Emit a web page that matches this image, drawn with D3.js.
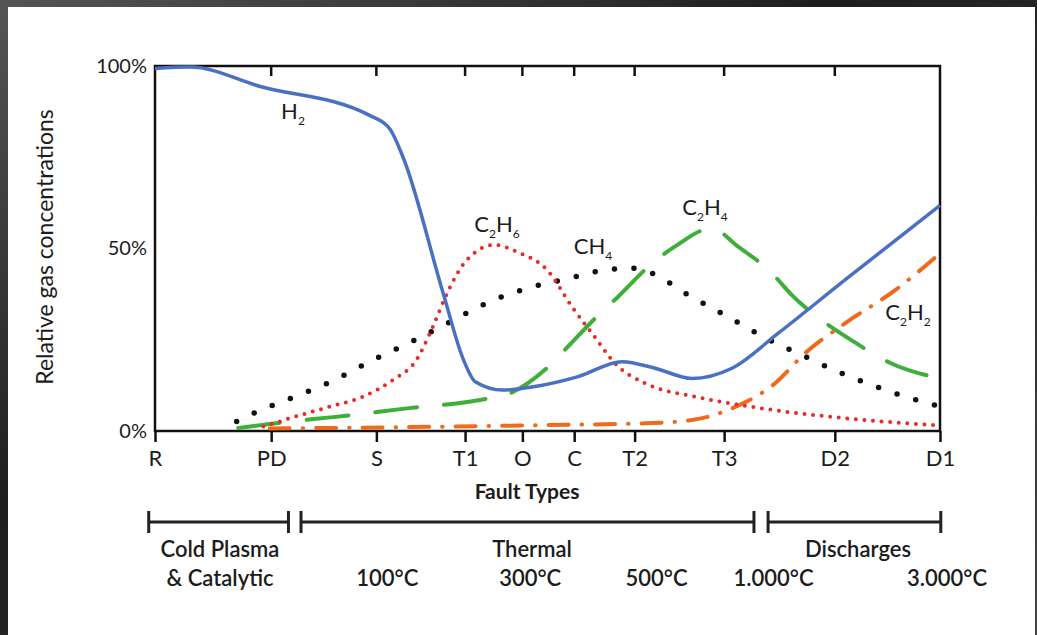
<!DOCTYPE html>
<html>
<head>
<meta charset="utf-8">
<script src="https://cdn.jsdelivr.net/npm/d3@7"></script>
<style>
  body { margin:0; background:#2b2b2b; }
  svg { display:block; }
  text { font-family: Lato, "Open Sans", sans-serif; fill:#1c1c1c; }
</style>
</head>
<body>
<script>
// fault types along the x axis (position on a 0..100 scale)
var faultLabels = ["R","PD","S","T1","O","C","T2","T3","D2","D1"]
var faultPos    = [0, 14.8, 28.2, 39.5, 46.8, 53.4, 61.1, 72.5, 86.6, 100]
var yTicks = [0, 50, 100]

// gas curves, [x, relative %]
var h2 = [[0,99.3],[4.5,99.7],[13.4,94.4],[27.4,86.4],[29.9,82.8],[31.6,75],[36.7,37.8],[39.3,19.5],[40.8,13.5],[44.3,11.2],[48.2,12.1],[53.9,14.9],[59.5,19],[63.7,17.2],[68.4,14.4],[73.5,17.2],[79.4,26.8],[87.9,41.4],[100,61.8]]
var c2h6 = [[13.8,1.2],[17.2,3.5],[22.3,6.7],[26.5,9.4],[30.3,14],[33.3,19.5],[35.4,28.6],[37.2,37.7],[39.7,46.8],[43.3,51],[46.1,49.1],[50,44],[53.1,34.1],[56,25.8],[58.6,18.5],[62.4,13.1],[68.8,9.4],[77.3,6.2],[87.9,3.5],[100,1.5]]
var ch4 = [[10.4,2.6],[13,5.3],[17.8,9.4],[22.9,14],[27.8,19.5],[32.7,24.5],[37.6,29.9],[42.2,35],[47.4,39.1],[52.7,41.8],[58,44.3],[60.7,44.6],[63.3,43.2],[67.9,37.3],[72.8,31.5],[77.5,25.8],[82.4,20.8],[87.5,15.8],[94.9,9.9],[100,6.7]]
var c2h4 = [[10.6,0.8],[17.2,2.6],[22.7,3.8],[32.1,6.2],[41.4,8.5],[45.2,10.3],[49.9,17.2],[52.2,22.2],[56.5,31.8],[59,36.8],[63.3,45.9],[66.2,50.5],[70.9,55.5],[74.3,50.5],[78.6,43.2],[81.1,37.3],[85.8,29],[88.7,24.9],[93.8,18.5],[100,14.4]]
var c2h2 = [[14.6,0.7],[30,1],[49,1.6],[62.4,2.1],[68.4,3],[73.5,6.2],[79,13.1],[82.8,21.3],[87.9,29.5],[94.3,38.6],[100,48.7]]

// temperature bands below the chart
var bandNames = ["Cold Plasma","Thermal","Discharges"]
var bandFrom  = [-0.8, 18.6, 78.1]
var bandTo    = [17, 76.3, 100.1]
var tempLabels = ["100°C","300°C","500°C","1.000°C","3.000°C"]
var tempPos    = [29.6, 47.8, 63.9, 78.8, 100.9]

var W = 1037, H = 635
var svg = d3.select("body").append("svg").attr("width",W).attr("height",H)

// dark photo-like surround
var grad = svg.append("defs").append("linearGradient").attr("id","bg").attr("x1",0).attr("y1",0).attr("x2",1).attr("y2",1)
grad.append("stop").attr("offset","0%").attr("stop-color","#555")
grad.append("stop").attr("offset","40%").attr("stop-color","#1e1e1e")
grad.append("stop").attr("offset","100%").attr("stop-color","#444")
svg.append("rect").attr("width",W).attr("height",H).attr("fill","url(#bg)")
svg.append("rect").attr("x",8).attr("y",7).attr("width",1027).attr("height",640).attr("fill","#fff")

var x = d3.scaleLinear().domain([0,100]).range([155,940])
var y = d3.scaleLinear().domain([0,100]).range([431,66])

// frame
svg.append("rect").attr("x",x(0)).attr("y",y(100)).attr("width",x(100)-x(0)).attr("height",y(0)-y(100))
  .attr("fill","none").attr("stroke","#111").attr("stroke-width",2.5)

// top ticks (inward)
svg.append("g").selectAll("line").data(faultPos.slice(1,-1)).enter().append("line")
  .attr("x1",d=>x(d)).attr("x2",d=>x(d)).attr("y1",y(100)).attr("y2",y(100)+10)
  .attr("stroke","#111").attr("stroke-width",2.5)

// bottom axis
var xAxis = d3.axisBottom(x).tickValues(faultPos).tickFormat((d,i)=>faultLabels[i]).tickSize(11).tickPadding(8)
var gx = svg.append("g").attr("transform","translate(0,"+y(0)+")").call(xAxis)
gx.select(".domain").remove()
gx.selectAll("line").attr("stroke","#111").attr("stroke-width",2.5)
gx.selectAll("text").attr("font-size",22).attr("fill","#1c1c1c").style("font-family","Lato, sans-serif")

// left labels
var yAxis = d3.axisLeft(y).tickValues(yTicks).tickFormat(d=>d+"%").tickSize(0).tickPadding(8)
var gy = svg.append("g").attr("transform","translate("+x(0)+",0)").call(yAxis)
gy.select(".domain").remove()
gy.selectAll("text").attr("font-size",20).attr("fill","#1c1c1c").style("font-family","Lato, sans-serif")

svg.append("text").attr("transform","translate(53,247) rotate(-90)").attr("text-anchor","middle")
  .attr("font-size",23).text("Relative gas concentrations")
svg.append("text").attr("x",527).attr("y",499).attr("text-anchor","middle")
  .attr("font-size",21).attr("font-weight","bold").text("Fault Types")

// curves
var line = d3.line().x(d=>x(d[0])).y(d=>y(d[1])).curve(d3.curveMonotoneX)
var series = [
  {data:c2h2, color:"#f06a1e", w:4, dash:"20 13 0.5 13"},
  {data:c2h4, color:"#3fae3a", w:4, dash:"42 27"},
  {data:ch4,  color:"#111",    w:5.5, dash:"0 19.5"},
  {data:c2h6, color:"#ea2a2a", w:4, dash:"0 8.6"},
  {data:h2,   color:"#4a70c4", w:3.5, dash:null}
]
svg.append("g").selectAll("path").data(series).enter().append("path")
  .attr("d",d=>line(d.data)).attr("fill","none")
  .attr("stroke",d=>d.color).attr("stroke-width",d=>d.w)
  .attr("stroke-linecap",d=>d.dash ? "round" : "butt")
  .attr("stroke-dasharray",d=>d.dash)

// gas labels with subscripts
function gasLabel(cx, cy, parts) {
  var t = svg.append("text").attr("x",cx).attr("y",cy).attr("text-anchor","middle").attr("font-size",22)
  parts.forEach(function(p){
    if (p.sub) t.append("tspan").attr("font-size",12).attr("dy",6).text(p.sub)
    else t.append("tspan").attr("dy",p.after ? -6 : 0).text(p.t)
  })
}
gasLabel(293,119,[{t:"H"},{sub:"2"}])
gasLabel(497,232,[{t:"C"},{sub:"2"},{t:"H",after:true},{sub:"6"}])
gasLabel(593,254,[{t:"CH"},{sub:"4"}])
gasLabel(705,215,[{t:"C"},{sub:"2"},{t:"H",after:true},{sub:"4"}])
gasLabel(908,320,[{t:"C"},{sub:"2"},{t:"H",after:true},{sub:"2"}])

// bands
var by = 522
var gb = svg.append("g").attr("stroke","#222").attr("stroke-width",3)
bandNames.forEach(function(n,i){
  gb.append("line").attr("x1",x(bandFrom[i])).attr("x2",x(bandTo[i])).attr("y1",by).attr("y2",by)
  gb.append("line").attr("x1",x(bandFrom[i])).attr("x2",x(bandFrom[i])).attr("y1",by-11).attr("y2",by+11)
  gb.append("line").attr("x1",x(bandTo[i])).attr("x2",x(bandTo[i])).attr("y1",by-11).attr("y2",by+11)
})
var bandLabelX = [220, 532, 858]
bandNames.forEach(function(n,i){
  svg.append("text").attr("x",bandLabelX[i]).attr("y",557).attr("text-anchor","middle")
    .attr("font-size",22).attr("font-weight",600).text(n)
})
svg.append("text").attr("x",220).attr("y",586).attr("text-anchor","middle")
  .attr("font-size",22).attr("font-weight",600).text("& Catalytic")
svg.append("g").selectAll("text").data(tempPos).enter().append("text")
  .attr("x",d=>x(d)).attr("y",586).attr("text-anchor","middle")
  .attr("font-size",22).attr("font-weight",600).text((d,i)=>tempLabels[i])
</script>
</body>
</html>
